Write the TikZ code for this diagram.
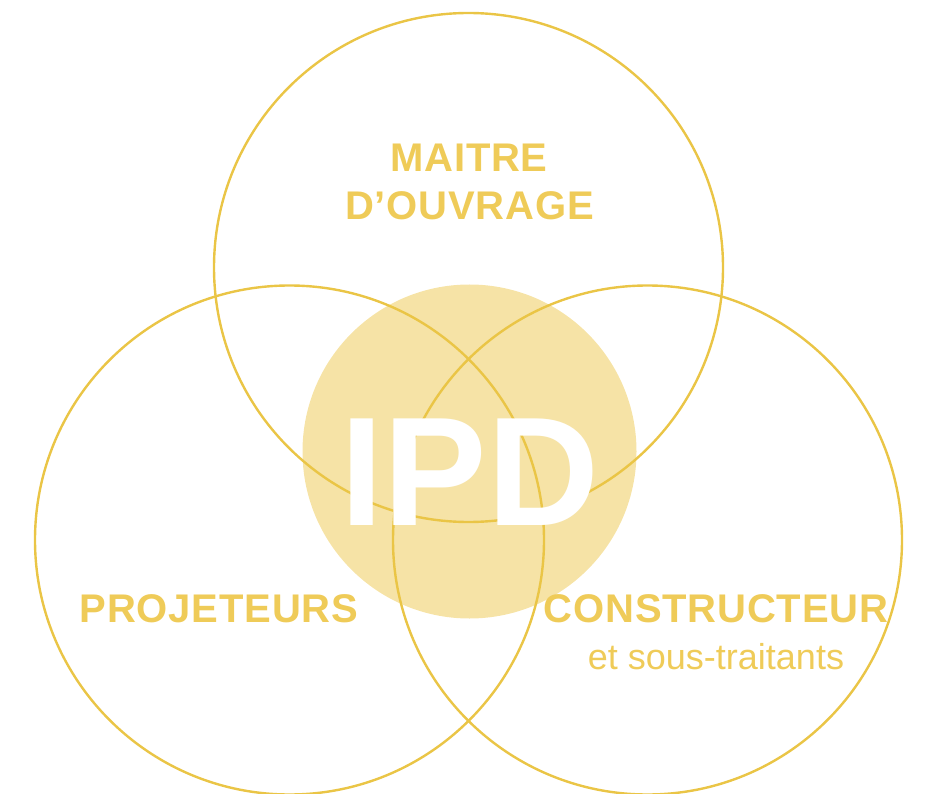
\documentclass[tikz,border=0pt]{standalone}
\usepackage{fontspec}
\setmainfont{Liberation Sans}
\newfontfamily\headfont[LetterSpace=2]{Liberation Sans}
\definecolor{ringcol}{HTML}{EAC546}
\definecolor{txtcol}{HTML}{EFCB58}
\definecolor{fillcol}{HTML}{F6E3A6}
\begin{document}
\begin{tikzpicture}[x=1pt,y=-1pt,
  ring/.style={draw=ringcol,line width=2.4pt},
  head/.style={anchor=base,text=txtcol,font=\headfont\fontsize{40}{40}\selectfont\bfseries,inner sep=0pt},
  sub/.style={anchor=base,text=txtcol,font=\fontsize{36}{36}\selectfont,inner sep=0pt},
  big/.style={anchor=base,text=white,font=\fontsize{155}{155}\selectfont\bfseries,inner sep=0pt}]
\useasboundingbox (0,0) rectangle (926,794);
\coordinate (ctop) at (468.5,267.5);
\coordinate (cleft) at (289.5,540);
\coordinate (cright) at (647.5,540);
\coordinate (cmid) at (469.5,451.5);
\fill[fillcol] (cmid) circle (167pt);
\draw[ring] (ctop) circle (254.5pt);
\draw[ring] (cleft) circle (254.5pt);
\draw[ring] (cright) circle (254.5pt);
\node[big] (ipd) at (470,525) {IPD};
\node[head] (mo1) at (469,172) {MAITRE};
\node[head] (mo2) at (469.5,220) {D’OUVRAGE};
\node[head] (proj) at (219,622) {PROJETEURS};
\node[head] (cons) at (716,622) {CONSTRUCTEUR};
\node[sub] (soustr) at (716,669) {et sous-traitants};
\end{tikzpicture}
\end{document}
